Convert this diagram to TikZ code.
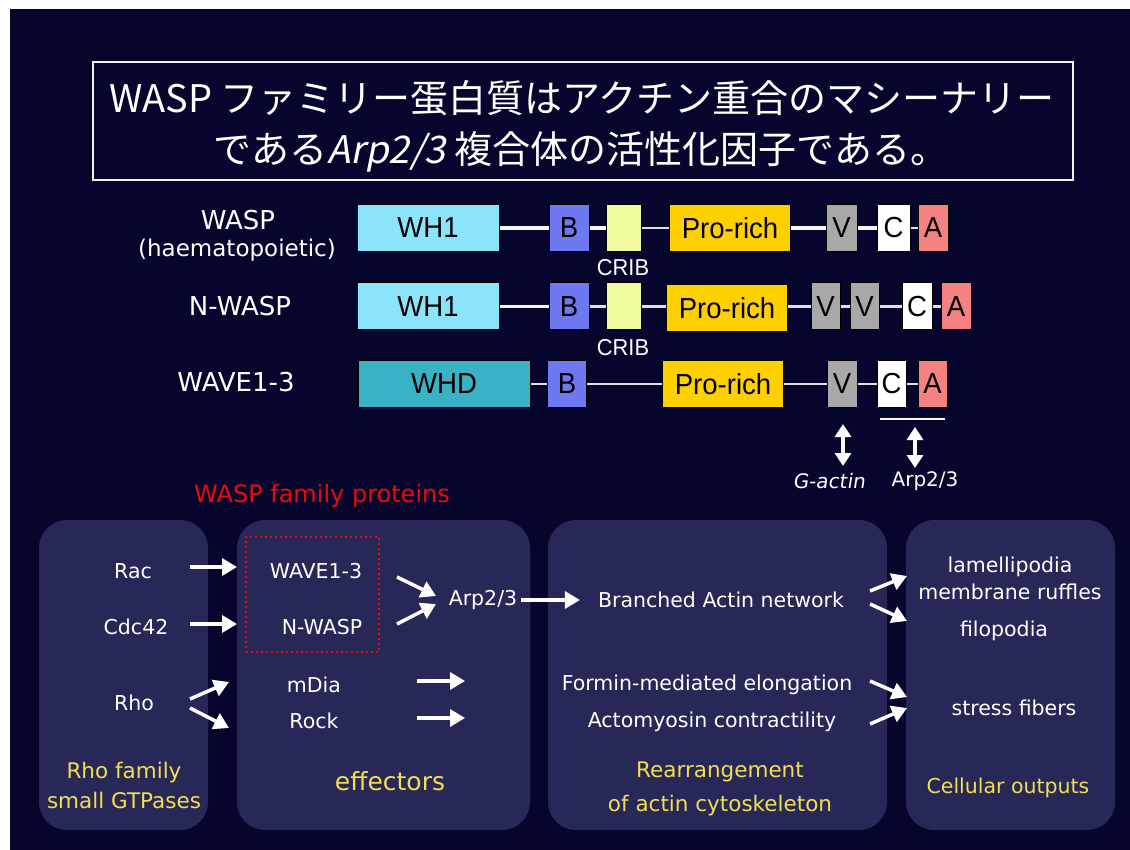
\documentclass[tikz,border=0pt]{standalone}
\usepackage{fontspec}
\setmainfont{DejaVu Sans}
\newfontfamily\jp{Noto Sans CJK JP}
\newfontfamily\jpsl[FakeSlant=0.2]{Noto Sans CJK JP}
\newfontfamily\narrowf[FakeStretch=0.95]{Liberation Sans}
\newfontfamily\slantf[FakeSlant=0.15]{DejaVu Sans}
\usetikzlibrary{arrows.meta}
\definecolor{bg}{RGB}{6,5,46}
\definecolor{panelc}{RGB}{40,40,88}
\definecolor{whc}{RGB}{140,228,250}
\definecolor{whdc}{RGB}{58,178,198}
\definecolor{bc}{RGB}{110,120,240}
\definecolor{cribc}{RGB}{242,250,160}
\definecolor{proc}{RGB}{255,208,0}
\definecolor{vc}{RGB}{168,168,168}
\definecolor{ac}{RGB}{245,130,130}
\definecolor{yel}{RGB}{242,222,80}
\definecolor{redt}{RGB}{235,10,10}
\begin{document}
\begin{tikzpicture}[x=1pt,y=-1pt,
  title/.style={text=white, font=\jp\fontsize{38}{42}\selectfont, inner sep=0},
  dom/.style={draw=black, line width=1pt, minimum height=47, inner sep=0, text=black,
    font=\narrowf\fontsize{29}{32}\selectfont},
  rowlab/.style={text=white, font=\fontsize{26}{29}\selectfont, inner sep=0},
  crib/.style={text=white, font=\narrowf\fontsize{23}{26}\selectfont, inner sep=0},
  lk/.style={white!92!gray, line width=3.5pt},
  lkg/.style={white!75!gray, line width=2.5pt},
  panelbox/.style={fill=panelc, rounded corners=28, inner sep=0},
  ptxt/.style={text=white, font=\fontsize{20.5}{24}\selectfont, inner sep=0},
  ytxt/.style={text=yel, font=\fontsize{21}{32}\selectfont, inner sep=0, align=center},
  arr/.style={white, line width=3.5pt, -{Triangle[length=15pt,width=17pt]}},
  dbl/.style={white, line width=3.5pt, {Triangle[length=13pt,width=16pt]}-{Triangle[length=13pt,width=16pt]}}
]
\useasboundingbox (0,0) rectangle (1130,850);
\fill[white] (0,0) rectangle (1130,850);
\fill[bg] (10,9) rectangle (1130,850);

% title
\node[draw=white!90!gray, line width=1.5pt, minimum width=980, minimum height=118, inner sep=0] (titlebox) at (583,121) {};
\node[title] (t1) at (582,98) {WASP ファミリー蛋白質はアクチン重合のマシーナリー};
\node[title] (t2) at (581,152) {である{\jpsl Arp2/3}\ 複合体の活性化因子である。};

% row labels
\node[rowlab] (lwasp) at (238,220) {WASP};
\node[rowlab, font=\fontsize{23}{26}\selectfont] (lhaem) at (237,250) {(haematopoietic)};
\node[rowlab] (lnwasp) at (240,306) {N-WASP};
\node[rowlab] (lwave) at (236,382) {WAVE1-3};

% row 1 WASP
\node[dom, fill=whc, minimum width=142] (wh1a) at (428,228) {WH1};
\node[dom, fill=bc, minimum width=40] (ba) at (569,228) {B};
\node[dom, fill=cribc, minimum width=35] (cra) at (623.5,228) {};
\node[dom, fill=proc, minimum width=121] (proa) at (730,228) {Pro-rich};
\node[dom, fill=vc, minimum width=31] (va) at (841.5,228) {V};
\node[dom, fill=white, minimum width=33] (ca) at (893.5,228) {C};
\node[dom, fill=ac, minimum width=30] (aa) at (933,228) {A};
\node[crib] (crla) at (623,268) {CRIB};
\draw[lk] (wh1a.east) -- (ba.west);
\draw[lk] (ba.east) -- (cra.west);
\draw[lkg] (cra.east) -- (proa.west);
\draw[lk] (proa.east) -- (va.west);
\draw[lk] (va.east) -- (ca.west);
\draw[lkg] (ca.east) -- (aa.west);

% row 2 N-WASP
\node[dom, fill=whc, minimum width=142] (wh1b) at (428,306.5) {WH1};
\node[dom, fill=bc, minimum width=40] (bb) at (569,306.5) {B};
\node[dom, fill=cribc, minimum width=35] (crb) at (623.5,306.5) {};
\node[dom, fill=proc, minimum width=121] (prob) at (727,308) {Pro-rich};
\node[dom, fill=vc, minimum width=29] (v1b) at (825.5,306.5) {V};
\node[dom, fill=vc, minimum width=29] (v2b) at (864.5,306.5) {V};
\node[dom, fill=white, minimum width=30] (cb) at (917,306.5) {C};
\node[dom, fill=ac, minimum width=30] (ab) at (956,306.5) {A};
\node[crib] (crlb) at (623,348) {CRIB};
\draw[lk] (wh1b.east) -- (bb.west);
\draw[lkg] (bb.east) -- (crb.west);
\draw[lkg] (crb.east) -- (prob.west |- crb.east);
\draw[lkg] (prob.east |- v1b.west) -- (v1b.west);
\draw[lkg] (v1b.east) -- (v2b.west);
\draw[lkg] (v2b.east) -- (cb.west);
\draw[lkg] (cb.east) -- (ab.west);

% row 3 WAVE
\node[dom, fill=whdc, minimum width=172] (whd) at (444,384) {WHD};
\node[dom, fill=bc, minimum width=39] (bc3) at (567,384) {B};
\node[dom, fill=proc, minimum width=121] (pro3) at (723,384) {Pro-rich};
\node[dom, fill=vc, minimum width=30] (v3) at (842,384) {V};
\node[dom, fill=white, minimum width=29] (c3) at (891.5,384) {C};
\node[dom, fill=ac, minimum width=29] (a3) at (932.5,384) {A};
\draw[lkg] (whd.east) -- (bc3.west);
\draw[lkg] (bc3.east) -- (pro3.west);
\draw[lkg] (pro3.east) -- (v3.west);
\draw[lkg] (v3.east) -- (c3.west);
\draw[lkg] (c3.east) -- (a3.west);

% binding partners
\node[text=white, font=\slantf\fontsize{20}{23}\selectfont, inner sep=0] (gact) at (829,481) {G-actin};
\node[text=white, font=\fontsize{20}{23}\selectfont, inner sep=0] (arpl) at (925,481) {Arp2/3};
\coordinate (ulL) at (880,419);
\coordinate (ulR) at (945,419);
\draw[white, line width=2.5pt] (ulL) -- (ulR);
\coordinate (gaT) at (843,424);
\coordinate (gaB) at (843,466);
\draw[dbl] (gaT) -- (gaB);
\coordinate (arpT) at (915,427);
\coordinate (arpB) at (915,468);
\draw[dbl] (arpT) -- (arpB);

% red label
\node[text=redt, font=\fontsize{24}{27}\selectfont, inner sep=0] (famlab) at (322,496) {WASP family proteins};

% panels
\node[panelbox, minimum width=169, minimum height=310] (p1) at (123.5,675) {};
\node[panelbox, minimum width=293, minimum height=310] (p2) at (383.5,675) {};
\node[panelbox, minimum width=339, minimum height=310] (p3) at (717.5,675) {};
\node[panelbox, minimum width=209, minimum height=310] (p4) at (1010.5,675) {};

% panel 1
\node[ptxt] (rac) at (133,571) {Rac};
\node[ptxt] (cdc) at (136,627) {Cdc42};
\node[ptxt] (rho) at (134,703) {Rho};
\node[ytxt, font=\fontsize{21.5}{30}\selectfont] (p1lab) at (124,785) {Rho family\\small GTPases};

% panel 2
\node[draw=redt, line width=2pt, dash pattern=on 2pt off 3pt, minimum width=133, minimum height=115, inner sep=0] (famrect) at (312.5,594.5) {};
\node[ptxt] (wave) at (316,571) {WAVE1-3};
\node[ptxt] (nwasp) at (322,627) {N-WASP};
\node[ptxt] (mdia) at (314,685) {mDia};
\node[ptxt] (rock) at (314,721) {Rock};
\node[ptxt] (arp) at (483,600) {Arp2/3};
\node[ytxt, font=\fontsize{25}{28}\selectfont] (p2lab) at (390,781) {effectors};

% panel 3
\node[ptxt] (branch) at (721,600) {Branched Actin network};
\node[ptxt] (formin) at (707,685) {Formin-mediated elongation};
\node[ptxt] (actomy) at (712,722) {Actomyosin contractility};
\node[ytxt, font=\fontsize{21.5}{34}\selectfont] (p3lab) at (720,789) {Rearrangement\\of actin cytoskeleton};

% panel 4
\node[ptxt] (lamel) at (1010,567) {lamellipodia};
\node[ptxt] (ruff) at (1010,592) {membrane ruffles};
\node[ptxt] (filo) at (1004,631) {filopodia};
\node[ptxt] (stress) at (1014,708) {stress fibers};
\node[ytxt, font=\fontsize{20.5}{24}\selectfont] (p4lab) at (1008,788) {Cellular outputs};

% arrows panel 1 -> 2
\coordinate (racS) at (190,567); \coordinate (racE) at (237,567);
\coordinate (cdcS) at (190,624); \coordinate (cdcE) at (237,624);
\coordinate (rhoS1) at (190,699); \coordinate (rhoE1) at (229,682);
\coordinate (rhoS2) at (190,708); \coordinate (rhoE2) at (229,728);
\draw[arr] (racS) -- (racE);
\draw[arr] (cdcS) -- (cdcE);
\draw[arr] (rhoS1) -- (rhoE1);
\draw[arr] (rhoS2) -- (rhoE2);

% arrows inside panel 2
\coordinate (waS) at (397,577); \coordinate (waE) at (436,596);
\coordinate (nwS) at (397,624); \coordinate (nwE) at (436,604);
\draw[arr] (waS) -- (waE);
\draw[arr] (nwS) -- (nwE);
\coordinate (mdS) at (417,681); \coordinate (mdE) at (465,681);
\coordinate (roS) at (417,718); \coordinate (roE) at (465,718);
\draw[arr] (mdS) -- (mdE);
\draw[arr] (roS) -- (roE);

% Arp2/3 -> branched
\draw[arr, shorten <=4pt, shorten >=18pt] (arp.east) -- (branch.west);

% arrows panel 3 -> 4
\coordinate (brS1) at (870,591); \coordinate (brE1) at (907,576);
\coordinate (brS2) at (870,604); \coordinate (brE2) at (907,621);
\coordinate (foS) at (870,681); \coordinate (foE) at (907,697);
\coordinate (acS) at (870,724); \coordinate (acE) at (907,708);
\draw[arr] (brS1) -- (brE1);
\draw[arr] (brS2) -- (brE2);
\draw[arr] (foS) -- (foE);
\draw[arr] (acS) -- (acE);
\end{tikzpicture}
\end{document}
